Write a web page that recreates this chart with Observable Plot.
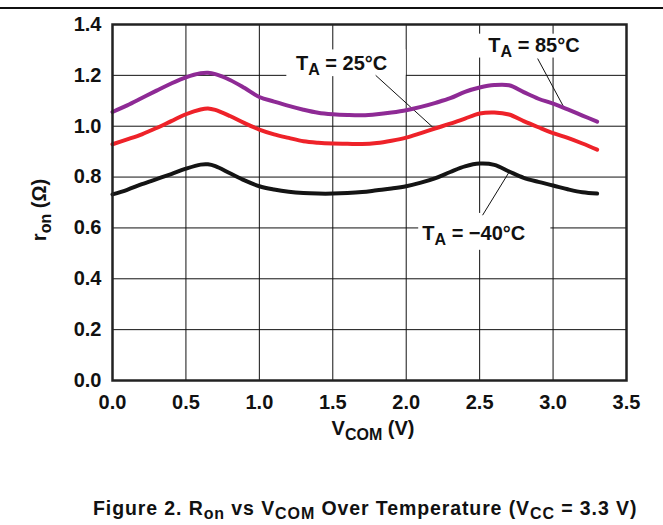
<!DOCTYPE html>
<html><head><meta charset="utf-8">
<script src="https://cdn.jsdelivr.net/npm/d3@7"></script>
<script src="https://cdn.jsdelivr.net/npm/@observablehq/plot@0.6"></script>
<style>
html,body{margin:0;padding:0;background:#fff;}
#wrap{position:relative;width:663px;height:525px;overflow:hidden;font-family:"Liberation Sans",Arial,sans-serif;}
#rule{position:absolute;left:0;top:7px;width:663px;height:0;border-top:2px solid #111;}
#chart{position:absolute;left:0;top:0;}
#cap{position:absolute;left:93px;top:497px;font-size:19.5px;letter-spacing:0.9px;line-height:22px;font-weight:bold;color:#111;white-space:nowrap;}
#cap sub{font-size:16px;vertical-align:-4px;line-height:0;}
</style></head>
<body><div id="wrap"><div id="rule"></div><div id="chart"></div>
<div id="cap">Figure 2. R<sub>on</sub> vs V<sub>COM</sub> Over Temperature (V<sub>CC</sub> = 3.3 V)</div></div>
<script>
const vcom = [0,0.1,0.2,0.3,0.4,0.5,0.6,0.65,0.7,0.8,0.9,1.0,1.1,1.2,1.3,1.4,1.5,1.6,1.7,1.8,1.9,2.0,2.1,2.2,2.3,2.4,2.5,2.6,2.7,2.8,2.9,3.0,3.1,3.2,3.3];
const ron85 = [1.056,1.082,1.111,1.140,1.168,1.192,1.208,1.210,1.205,1.182,1.150,1.115,1.097,1.080,1.065,1.053,1.047,1.044,1.043,1.047,1.054,1.063,1.076,1.092,1.110,1.135,1.152,1.162,1.161,1.134,1.108,1.089,1.066,1.042,1.018];
const ron25 = [0.929,0.948,0.968,0.993,1.020,1.047,1.066,1.070,1.064,1.040,1.012,0.987,0.968,0.954,0.941,0.935,0.932,0.931,0.930,0.934,0.943,0.955,0.973,0.992,1.010,1.030,1.050,1.054,1.046,1.020,0.996,0.973,0.954,0.932,0.908];
const ronM40 = [0.732,0.750,0.772,0.792,0.812,0.833,0.849,0.850,0.843,0.815,0.787,0.764,0.751,0.742,0.737,0.735,0.735,0.737,0.741,0.748,0.755,0.764,0.778,0.796,0.820,0.842,0.853,0.848,0.822,0.797,0.781,0.767,0.752,0.740,0.735];
const seriesNames = ["85°C","25°C","−40°C"];
const seriesColors = ["#8e2a95","#ee2229","#141414"];
const xTicks = [0,0.5,1.0,1.5,2.0,2.5,3.0,3.5];
const yTicks = [0,0.2,0.4,0.6,0.8,1.0,1.2,1.4];
// annotation labels (data units)
const labelText = ["TA = 25°C","TA = 85°C","TA = −40°C"];
const labelX = [1.56,2.87,2.46];
const labelY = [1.245,1.317,0.578];
const boxX1 = [1.187,2.495,2.085];
const boxX2 = [2.0,3.27,2.985];
const boxY1 = [1.195,1.268,0.512];
const boxY2 = [1.30,1.362,0.657];
const leadX1 = [1.792,2.895,2.70];
const leadY1 = [1.20,1.266,0.819];
const leadX2 = [2.179,3.072,2.52];
const leadY2 = [0.997,1.076,0.65];

const lineData = [];
[ron85, ron25, ronM40].forEach((arr, s) => arr.forEach((v, i) => lineData.push({x: vcom[i], y: v, s: seriesNames[s]})));
const labels = labelText.map((t, i) => ({t, x: labelX[i], y: labelY[i], x1: boxX1[i], x2: boxX2[i], y1: boxY1[i], y2: boxY2[i]}));
const leaders = leadX1.map((v, i) => ({x1: v, y1: leadY1[i], x2: leadX2[i], y2: leadY2[i]}));

const chart = Plot.plot({
  width: 663, height: 460,
  marginLeft: 112, marginRight: 37, marginTop: 24, marginBottom: 80,
  style: {fontFamily: "'Liberation Sans', Arial, sans-serif", fontSize: "20px", fontWeight: "bold", color: "#111", background: "transparent"},
  x: {domain: [0, 3.5], ticks: xTicks, tickFormat: d3.format(".1f")},
  y: {domain: [0, 1.4], ticks: yTicks, tickFormat: d3.format(".1f")},
  color: {domain: seriesNames, range: seriesColors},
  marks: [
    Plot.gridX(xTicks, {stroke: "#111", strokeOpacity: 1, strokeWidth: 1}),
    Plot.gridY(yTicks, {stroke: "#111", strokeOpacity: 1, strokeWidth: 1}),
    Plot.rect(labels, {x1: "x1", x2: "x2", y1: "y1", y2: "y2", fill: "white"}),
    Plot.link(leaders, {x1: "x1", y1: "y1", x2: "x2", y2: "y2", stroke: "#111", strokeWidth: 1}),
    Plot.line(lineData, {x: "x", y: "y", z: "s", stroke: "s", strokeWidth: 4, curve: "catmull-rom", strokeLinejoin: "round"}),
    Plot.frame({stroke: "#222", strokeWidth: 2.5}),
    Plot.axisX({ticks: xTicks, tickSize: 0, tickPadding: 14, label: null, tickFormat: d3.format(".1f"), fontSize: 20}),
    Plot.axisY({ticks: yTicks, tickSize: 0, tickPadding: 11, label: null, tickFormat: d3.format(".1f"), fontSize: 20}),
    Plot.text(labels, {x: "x", y: "y", text: "t", fontSize: 20, fontWeight: "bold", fill: "#111", textAnchor: "middle", className: "ta-lbl"})
  ]
});
document.getElementById("chart").appendChild(chart);
const svg = d3.select(chart);
// subscripts in annotation labels
svg.selectAll(".ta-lbl text").each(function() {
  const t = this.textContent; // "TA = xx"
  const el = d3.select(this);
  el.text("");
  el.append("tspan").text("T");
  el.append("tspan").attr("font-size", 16).attr("dy", 5).text("A");
  el.append("tspan").attr("dy", -5).text(t.slice(2));
});
// axis titles
const yl = svg.append("text").attr("transform", "translate(46,210) rotate(-90)").attr("text-anchor", "middle")
  .attr("font-size", 20).attr("font-weight", "bold").attr("fill", "#111");
yl.append("tspan").text("r");
yl.append("tspan").attr("font-size", 16).attr("dy", 5).text("on");
yl.append("tspan").attr("dy", -5).text(" (Ω)");
const xl = svg.append("text").attr("x", 373).attr("y", 435).attr("text-anchor", "middle")
  .attr("font-size", 20).attr("font-weight", "bold").attr("fill", "#111");
xl.append("tspan").text("V");
xl.append("tspan").attr("font-size", 16).attr("dy", 5).text("COM");
xl.append("tspan").attr("dy", -5).text(" (V)");
</script></body></html>
